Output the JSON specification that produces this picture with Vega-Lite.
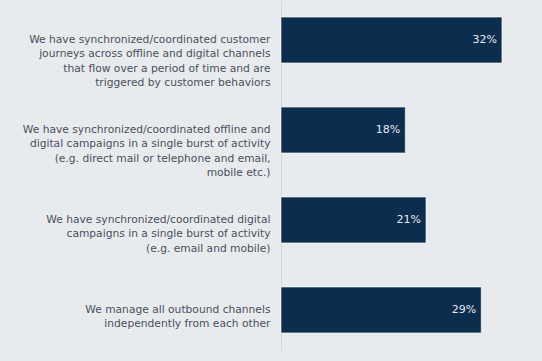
{
  "$schema": "https://vega.github.io/schema/vega-lite/v6.json",
  "width": 261,
  "height": 350,
  "autosize": {"type": "none"},
  "padding": {"left": 281, "top": 0, "right": 0, "bottom": 11},
  "background": "#e8ebee",
  "config": {"view": {"stroke": null}, "font": "DejaVu Sans"},
  "data": {
    "values": [
      {"label": "We have synchronized/coordinated customer|journeys across offline and digital channels|that flow over a period of time and are|triggered by customer behaviors", "value": 0.32, "order": 1},
      {"label": "We have synchronized/coordinated offline and|digital campaigns in a single burst of activity|(e.g. direct mail or telephone and email,|mobile etc.)", "value": 0.18, "order": 2},
      {"label": "We have synchronized/coordinated digital|campaigns in a single burst of activity|(e.g. email and mobile)", "value": 0.21, "order": 3},
      {"label": "We manage all outbound channels|independently from each other", "value": 0.29, "order": 4}
    ]
  },
  "encoding": {
    "y": {
      "field": "label",
      "type": "nominal",
      "sort": {"field": "order"},
      "scale": {"paddingInner": 0.49, "paddingOuter": 0.19},
      "axis": {
        "title": null,
        "ticks": false,
        "domain": true,
        "domainColor": "#d3d6da",
        "domainWidth": 1,
        "labelExpr": "split(datum.label, '|')",
        "labelFontSize": 10.7,
        "labelColor": "#4a505c",
        "labelPadding": 11,
        "labelLineHeight": 14.3,
        "labelLimit": 300,
        "labelAlign": "right"
      }
    },
    "x": {
      "field": "value",
      "type": "quantitative",
      "scale": {"domain": [0, 0.378]},
      "axis": null
    }
  },
  "layer": [
    {"mark": {"type": "bar", "color": "#0b2d4e", "stroke": "#ffffff", "strokeWidth": 0.6}},
    {
      "mark": {"type": "text", "align": "right", "dx": -5, "color": "#e6e9ee", "fontSize": 11},
      "encoding": {"text": {"field": "value", "type": "quantitative", "format": ".0%"}}
    }
  ]
}
